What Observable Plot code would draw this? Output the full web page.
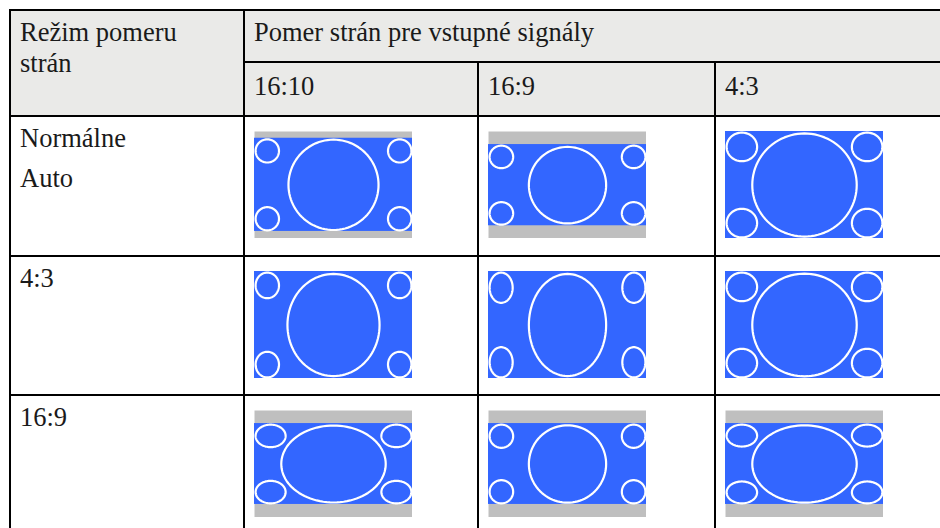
<!DOCTYPE html>
<html>
<head>
<meta charset="utf-8">
<script src="https://cdn.jsdelivr.net/npm/d3@7"></script>
<script src="https://cdn.jsdelivr.net/npm/@observablehq/plot@0.6"></script>
<style>
  html, body { margin: 0; padding: 0; width: 940px; height: 528px; overflow: hidden; background: #fff; }
  #table {
    position: absolute; left: 9px; top: 9px;
    display: grid;
    grid-template-columns: 232px 232px 235px 233px;
    grid-template-rows: 50px 52px 138px 137px 138px;
    gap: 2px; padding: 2px; background: #000;
    font-family: "Liberation Serif", serif; font-size: 26.5px; line-height: 31px; color: #1a1a1a;
  }
  .cell { background: #fff; box-sizing: border-box; padding: 6px 0 0 9px; overflow: hidden; }
  .head { background: #eaeae8; }
  .wrap { max-width: 190px; }
  .sub { padding-top: 8px; }
  .pic { padding: 14px 0 0 9px; }
  .para + .para { margin-top: 9px; }
</style>
</head>
<body>
<div id="table"></div>
<script>
// ---- data ----
const headerMode = "Režim pomeru strán";
const headerSignal = "Pomer strán pre vstupné signály";
const signalLabels = ["16:10", "16:9", "4:3"];
const modeLabels = [["Normálne", "Auto"], ["4:3"], ["16:9"]];
// rows = aspect mode, cols = input signal; values in % of the picture frame
const pictureTop    = [[6.3, 12.2, 0], [0, 0, 0], [12.2, 12.2, 12.2]];
const pictureBottom = [[93.4, 88.1, 100], [100, 100, 100], [87.8, 87.8, 87.8]];
const bigWidth      = [[58.4, 50.3, 67.5], [59.7, 50.3, 67.5], [67.5, 50.3, 67.5]];
const bigHeight     = [[86.5, 73.5, 98.4], [97.5, 97.5, 98.0], [74.0, 74.3, 74.3]];
const cornerWidth   = [[16.2, 16.3, 20.7], [16.2, 16.0, 20.7], [20.4, 16.3, 20.7]];
const cornerHeight  = [[23.7, 23.1, 28.8], [26.0, 30.3, 28.8], [23.1, 23.7, 22.5]];

// ---- layout ----
const W = 158, H = 107, SW = 2.2;
const table = document.getElementById("table");
function cell(cls, style) {
  const d = document.createElement("div");
  d.className = "cell " + cls;
  if (style) d.style.cssText = style;
  table.appendChild(d);
  return d;
}
function paras(el, lines) {
  for (const t of lines) { const p = document.createElement("div"); p.className = "para"; p.textContent = t; el.appendChild(p); }
}

const hm = cell("head", "grid-column:1;grid-row:1 / span 2");
const hmText = document.createElement("div"); hmText.className = "wrap"; hmText.textContent = headerMode; hm.appendChild(hmText);
cell("head", "grid-column:2 / span 3;grid-row:1").textContent = headerSignal;
signalLabels.forEach((s, c) => { cell("head sub", `grid-column:${c + 2};grid-row:2`).textContent = s; });

function ellipse(id, cx, cy, outerW, outerH) {
  const rx = outerW / 2 - (SW / 2) / W * 100;
  const ry = outerH / 2 - (SW / 2) / H * 100;
  const n = 96, pts = [];
  for (let k = 0; k < n; k++) {
    const a = 2 * Math.PI * k / n;
    pts.push({id, x: cx + rx * Math.cos(a), y: cy + ry * Math.sin(a)});
  }
  return pts;
}

function picture(r, c) {
  const top = pictureTop[r][c], bottom = pictureBottom[r][c];
  const bw = bigWidth[r][c], bh = bigHeight[r][c];
  const cw = cornerWidth[r][c], ch = cornerHeight[r][c];
  const letterbox = top > 0 || bottom < 100;
  const pts = [
    ...ellipse("big", 50, (top + bottom) / 2, bw, bh),
    ...ellipse("tl", cw / 2, top + ch / 2, cw, ch),
    ...ellipse("tr", 100 - cw / 2, top + ch / 2, cw, ch),
    ...ellipse("bl", cw / 2, bottom - ch / 2, cw, ch),
    ...ellipse("br", 100 - cw / 2, bottom - ch / 2, cw, ch)
  ];
  return Plot.plot({
    width: W, height: H,
    marginTop: 0, marginRight: 0, marginBottom: 0, marginLeft: 0,
    x: {domain: [0, 100], axis: null},
    y: {domain: [0, 100], reverse: true, axis: null},
    style: {background: "transparent"},
    marks: [
      letterbox ? Plot.frame({fill: "#bfbfbf", stroke: null}) : null,
      Plot.rect([{top, bottom}], {x1: () => 0, x2: () => 100, y1: "top", y2: "bottom", fill: "#3366ff"}),
      Plot.line(pts, {x: "x", y: "y", z: "id", curve: "linear-closed", stroke: "white", strokeWidth: SW})
    ]
  });
}

modeLabels.forEach((lines, r) => {
  paras(cell("", `grid-column:1;grid-row:${r + 3}`), lines);
  signalLabels.forEach((s, c) => {
    cell("pic", `grid-column:${c + 2};grid-row:${r + 3}`).appendChild(picture(r, c));
  });
});
</script>
</body>
</html>
